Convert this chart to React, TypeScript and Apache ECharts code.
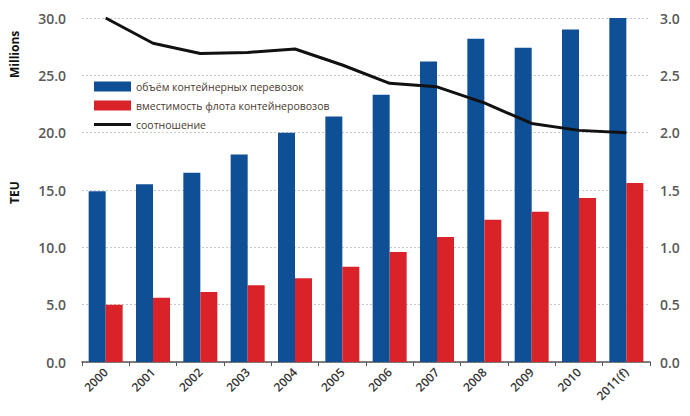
import React, { useEffect, useRef } from "react";
import * as echarts from "echarts";

const categories = ["2000", "2001", "2002", "2003", "2004", "2005", "2006", "2007", "2008", "2009", "2010", "2011(f)"];
const volume = [14.9, 15.5, 16.5, 18.1, 20.0, 21.4, 23.3, 26.2, 28.2, 27.4, 29.0, 30.0];
const capacity = [5.0, 5.6, 6.1, 6.7, 7.3, 8.3, 9.6, 10.9, 12.4, 13.1, 14.3, 15.6];
const ratio = [3.0, 2.78, 2.69, 2.7, 2.73, 2.59, 2.43, 2.4, 2.26, 2.08, 2.02, 2.0];
const leftTicks = [0, 5, 10, 15, 20, 25, 30];
const seriesNames = ["объём контейнерных перевозок", "вместимость флота контейнеровозов", "соотношение"];

export default function App() {
  const ref = useRef<HTMLDivElement>(null);
  useEffect(() => {
    if (!ref.current) return;
    const chart = echarts.init(ref.current, null, { renderer: "svg" });
    const font = "'Open Sans', 'DejaVu Sans', sans-serif";
    chart.setOption({
      animation: false,
      textStyle: { fontFamily: font },
      grid: { left: 82, right: 40, top: 18, bottom: 54 },
      legend: {
        orient: "vertical",
        left: 89,
        top: 76,
        itemWidth: 37,
        itemHeight: 10,
        itemGap: 8,
        data: [
          { name: seriesNames[0], icon: "rect" },
          { name: seriesNames[1], icon: "rect" },
          { name: seriesNames[2], icon: "path://M0,0 L0.01,0 M0,3.5 L37,3.5 L37,6.5 L0,6.5 Z M37,10 L36.99,10" },
        ],
        textStyle: { fontSize: 10.5, color: "#4a3a30", fontFamily: font },
      },
      graphic: [
        {
          type: "text",
          x: 8,
          y: 78,
          rotation: Math.PI / 2,
          style: { text: "Millions", font: `bold 12px ${font}`, fill: "#111" },
        },
        {
          type: "text",
          x: 8,
          y: 204,
          rotation: Math.PI / 2,
          style: { text: "TEU", font: `bold 12px ${font}`, fill: "#111" },
        },
      ],
      xAxis: {
        type: "category",
        data: categories,
        axisLine: { show: true, lineStyle: { color: "#555", width: 1.5 } },
        axisTick: { show: true, lineStyle: { color: "#555" }, length: 4 },
        axisLabel: {
          rotate: 45,
          fontSize: 12,
          fontWeight: 600,
          color: "#333",
          margin: 8,
          interval: 0,
        },
      },
      yAxis: [
        {
          type: "value",
          min: 0,
          max: 30,
          interval: 5,
          axisLine: { show: false },
          axisTick: { show: false },
          axisLabel: {
            fontSize: 14,
            fontWeight: 600,
            color: "#595959",
            margin: 16,
            formatter: (v: number) => (leftTicks.includes(v) ? v.toFixed(1) : ""),
          },
          splitLine: { show: true, lineStyle: { color: "#c8c8c8", type: [2, 2], width: 1.2 } },
        },
        {
          type: "value",
          min: 0,
          max: 3,
          interval: 0.5,
          axisLine: { show: false },
          axisTick: { show: false },
          axisLabel: {
            fontSize: 14,
            fontWeight: 600,
            color: "#595959",
            margin: 10,
            formatter: (v: number) => v.toFixed(1),
          },
          splitLine: { show: false },
        },
      ],
      series: [
        {
          name: seriesNames[0],
          type: "bar",
          data: volume,
          itemStyle: { color: "#0f4f96" },
          barWidth: 17,
          barGap: "0%",
        },
        {
          name: seriesNames[1],
          type: "bar",
          data: capacity,
          itemStyle: { color: "#d92328" },
          barWidth: 17,
          barGap: "0%",
        },
        {
          name: seriesNames[2],
          type: "line",
          yAxisIndex: 1,
          data: ratio,
          symbol: "none",
          lineStyle: { color: "#111", width: 3 },
          itemStyle: { color: "#111" },
        },
      ],
    });
    return () => chart.dispose();
  }, []);
  return <div ref={ref} style={{ width: 690, height: 416, marginLeft: -8, marginTop: -8 }} />;
}
